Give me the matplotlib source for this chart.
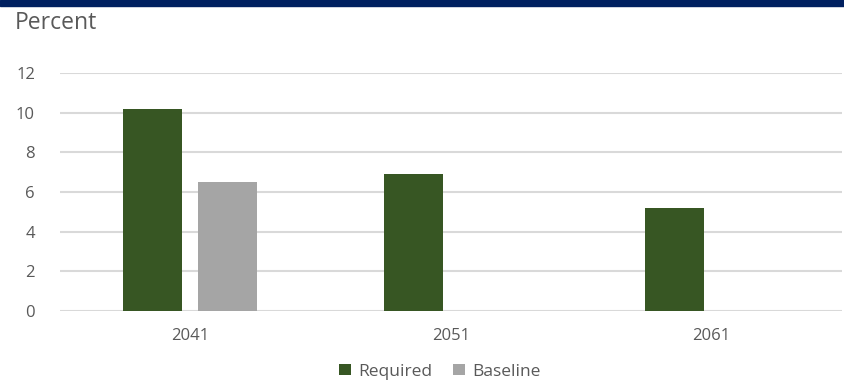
import matplotlib.pyplot as plt
import numpy as np
from matplotlib.patches import Rectangle

plt.rcParams["font.family"] = ["Open Sans", "DejaVu Sans"]

years = ["2041", "2051", "2061"]
required = [10.2, 6.9, 5.2]
baseline = [6.5, np.nan, np.nan]

TEXT = "#595959"
GREEN = "#375623"
GREY = "#a5a5a5"

fig = plt.figure(figsize=(8.45, 3.81), dpi=100)
ax = fig.add_axes([60 / 845, 1 - 311 / 381, 782 / 845, 238 / 381])

x = np.arange(len(years))
bar_w = 0.226
off = 0.144
ax.bar(x - off, required, width=bar_w, color=GREEN, label="Required", zorder=3)
ax.bar(x + off, baseline, width=bar_w, color=GREY, label="Baseline", zorder=3)

ax.set_xlim(-0.5, len(years) - 0.5)
ax.set_ylim(0, 12)
ax.set_yticks(range(0, 13, 2))
ax.set_xticks(x)
ax.set_xticklabels(years)
ax.tick_params(axis="both", length=0, colors=TEXT, labelsize=12)
ax.tick_params(axis="x", pad=12)
ax.tick_params(axis="y", pad=18)
ax.grid(axis="y", color="#d9d9d9", linewidth=1.5, zorder=0)
for side in ax.spines.values():
    side.set_visible(False)

fig.text(15 / 845, 1 - 23 / 381, "Percent", color=TEXT, fontsize=16.5,
         ha="left", va="center")

# navy banner strip across the top edge
fig.patches.append(Rectangle((0, 1 - 6 / 381), 1, 6 / 381, transform=fig.transFigure,
                             color="#002060", zorder=10))

ax.legend(loc="center", bbox_to_anchor=(440 / 845, 1 - 372 / 381),
          bbox_transform=fig.transFigure, ncol=2, frameon=False, fontsize=12.5,
          labelcolor=TEXT, handlelength=0.7, handleheight=0.6, handletextpad=0.4,
          columnspacing=1.2)

fig.savefig("out.png", dpi=100)
